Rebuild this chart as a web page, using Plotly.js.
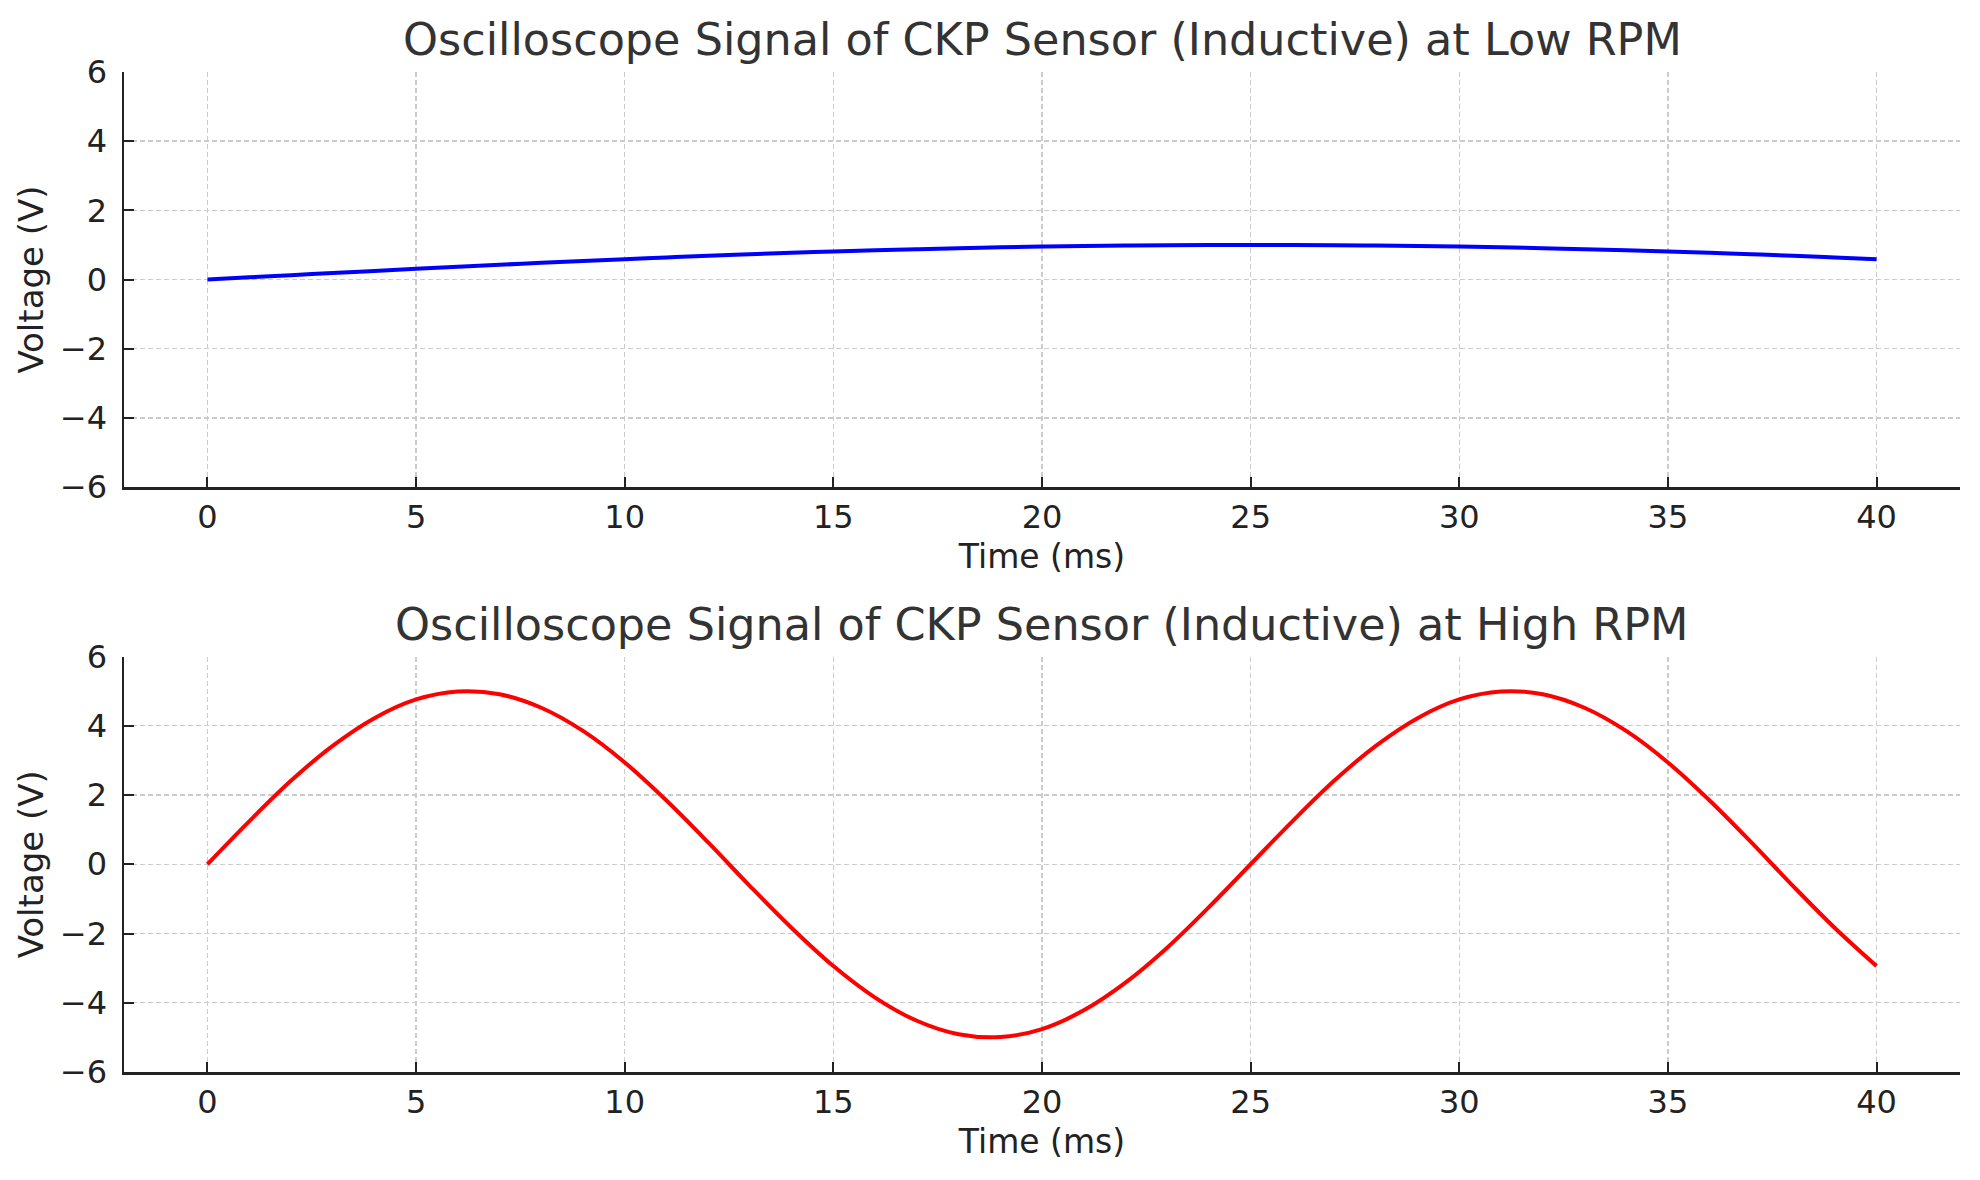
<!DOCTYPE html>
<html>
<head>
<meta charset="utf-8">
<script src="https://cdn.plot.ly/plotly-3.0.1.min.js"></script>
<style>
  html, body { margin: 0; padding: 0; background: #ffffff; }
  #chart { width: 1980px; height: 1180px; }
</style>
</head>
<body>
<div id="chart"></div>
<script>
// Sample times (ms), one reading per millisecond
const timeMs = [0, 1, 2, 3, 4, 5, 6, 7, 8, 9, 10, 11, 12, 13, 14, 15, 16, 17, 18, 19, 20,
                21, 22, 23, 24, 25, 26, 27, 28, 29, 30, 31, 32, 33, 34, 35, 36, 37, 38, 39, 40];

// CKP inductive sensor voltage at low engine speed (V)
const lowRpmVolts = [0.000, 0.063, 0.125, 0.187, 0.249, 0.309, 0.368, 0.426, 0.482, 0.536, 0.588,
                     0.637, 0.685, 0.729, 0.771, 0.809, 0.844, 0.876, 0.905, 0.930, 0.951,
                     0.969, 0.982, 0.992, 0.998, 1.000, 0.998, 0.992, 0.982, 0.969, 0.951,
                     0.930, 0.905, 0.876, 0.844, 0.809, 0.771, 0.729, 0.685, 0.637, 0.588];

// CKP inductive sensor voltage at high engine speed (V)
const highRpmVolts = [0.00, 1.24, 2.41, 3.42, 4.22, 4.76, 4.99, 4.91, 4.52, 3.85, 2.94,
                      1.84, 0.63, -0.63, -1.84, -2.94, -3.85, -4.52, -4.91, -4.99, -4.76,
                      -4.22, -3.42, -2.41, -1.24, 0.00, 1.24, 2.41, 3.42, 4.22, 4.76,
                      4.99, 4.91, 4.52, 3.85, 2.94, 1.84, 0.63, -0.63, -1.84, -2.94];

const panelTitles = [
  'Oscilloscope Signal of CKP Sensor (Inductive) at Low RPM',
  'Oscilloscope Signal of CKP Sensor (Inductive) at High RPM'
];
const xTickVals = [0, 5, 10, 15, 20, 25, 30, 35, 40];
const yTickVals = [-6, -4, -2, 0, 2, 4, 6];
const yTickText = ['\u22126', '\u22124', '\u22122', '0', '2', '4', '6'];
const xLabel = 'Time (ms)';
const yLabel = 'Voltage (V)';

const FONT = 'DejaVu Sans, Verdana, sans-serif';

const traces = [
  {
    x: timeMs, y: lowRpmVolts, type: 'scatter', mode: 'lines',
    line: { color: '#0000ff', width: 4, shape: 'spline', smoothing: 1 },
    xaxis: 'x', yaxis: 'y', hoverinfo: 'x+y'
  },
  {
    x: timeMs, y: highRpmVolts, type: 'scatter', mode: 'lines',
    line: { color: '#ff0000', width: 4, shape: 'spline', smoothing: 1 },
    xaxis: 'x2', yaxis: 'y2', hoverinfo: 'x+y'
  }
];

function xAxis(domainAnchor) {
  return {
    anchor: domainAnchor,
    range: [-2, 42],
    tickvals: xTickVals,
    ticks: 'inside', ticklen: 10, tickwidth: 2, tickcolor: '#222222',
    tickfont: { family: FONT, size: 32, color: '#222222' },
    ticklabelstandoff: 0,
    showline: true, linecolor: '#222222', linewidth: 2.5, mirror: false,
    showgrid: true, gridcolor: '#cccccc', gridwidth: 1.4, griddash: '5px,3px',
    zeroline: false,
    title: { text: xLabel, font: { family: FONT, size: 33, color: '#222222' }, standoff: 10 }
  };
}
function yAxis(domain, domainAnchor) {
  return {
    anchor: domainAnchor,
    domain: domain,
    range: [-6, 6],
    tickvals: yTickVals, ticktext: yTickText,
    ticks: 'inside', ticklen: 10, tickwidth: 2, tickcolor: '#222222',
    tickfont: { family: FONT, size: 32, color: '#222222' },
    ticklabelstandoff: 8,
    showline: true, linecolor: '#222222', linewidth: 2.5, mirror: false,
    showgrid: true, gridcolor: '#cccccc', gridwidth: 1.4, griddash: '5px,3px',
    zeroline: false,
    title: { text: yLabel, font: { family: FONT, size: 34, color: '#222222' }, standoff: 6 }
  };
}

const layout = {
  width: 1980, height: 1180,
  paper_bgcolor: '#ffffff', plot_bgcolor: '#ffffff',
  margin: { l: 124, r: 20, t: 72, b: 108 },
  showlegend: false,
  font: { family: FONT, color: '#222222' },
  xaxis: Object.assign(xAxis('y'), { domain: [0, 1] }),
  yaxis: yAxis([0.585, 1], 'x'),
  xaxis2: Object.assign(xAxis('y2'), { domain: [0, 1] }),
  yaxis2: yAxis([0, 0.4155], 'x2'),
  annotations: [
    {
      text: panelTitles[0], xref: 'paper', yref: 'paper', x: 0.5, y: 1.033,
      xanchor: 'center', yanchor: 'middle', showarrow: false,
      font: { family: FONT, size: 44.5, color: '#333333' }
    },
    {
      text: panelTitles[1], xref: 'paper', yref: 'paper', x: 0.5, y: 0.448,
      xanchor: 'center', yanchor: 'middle', showarrow: false,
      font: { family: FONT, size: 44.5, color: '#333333' }
    }
  ]
};

Plotly.newPlot('chart', traces, layout, { displayModeBar: false, staticPlot: true });
</script>
</body>
</html>
